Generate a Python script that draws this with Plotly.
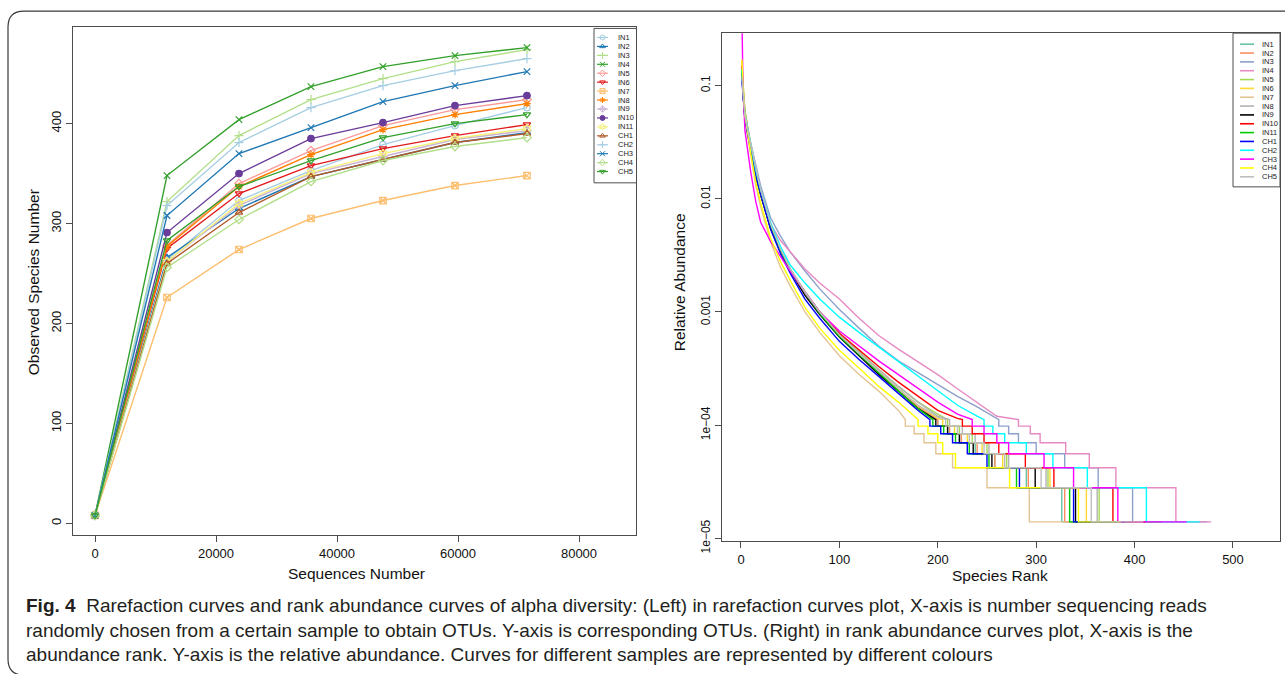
import plotly.graph_objects as go

W, H = 1285, 674
# vertical extent used for placing elements on the page
PAGE_H = 659

samples = ["IN1", "IN2", "IN3", "IN4", "IN5", "IN6", "IN7", "IN8", "IN9", "IN10", "IN11",
           "CH1", "CH2", "CH3", "CH4", "CH5"]

# ---------------- rarefaction curves (observed OTUs vs. sequences drawn) ----------------
seq_depth = [0, 11900, 23800, 35700, 47600, 59500, 71400]

obs_IN1 = [8, 264, 323, 353, 379, 398, 416]
obs_IN2 = [8, 266, 315, 347, 364, 381, 391]
obs_IN3 = [8, 322, 388, 424, 445, 462, 474]
obs_IN4 = [8, 348, 404, 437, 457, 468, 476]
obs_IN5 = [8, 278, 340, 373, 398, 414, 424]
obs_IN6 = [8, 275, 330, 358, 375, 388, 399]
obs_IN7 = [8, 226, 274, 305, 323, 338, 348]
obs_IN8 = [8, 277, 337, 369, 394, 409, 420]
obs_IN9 = [8, 262, 318, 350, 367, 384, 393]
obs_IN10 = [8, 291, 350, 385, 401, 418, 428]
obs_IN11 = [8, 262, 320, 351, 370, 385, 395]
obs_CH1 = [8, 260, 311, 347, 364, 381, 390]
obs_CH2 = [8, 318, 381, 416, 438, 453, 465]
obs_CH3 = [8, 308, 370, 396, 422, 438, 452]
obs_CH4 = [8, 256, 304, 342, 363, 377, 386]
obs_CH5 = [8, 283, 337, 363, 386, 400, 409]

observed = [obs_IN1, obs_IN2, obs_IN3, obs_IN4, obs_IN5, obs_IN6, obs_IN7, obs_IN8,
            obs_IN9, obs_IN10, obs_IN11, obs_CH1, obs_CH2, obs_CH3, obs_CH4, obs_CH5]

rare_colors = ["#A6CEE3", "#1F78B4", "#B2DF8A", "#33A02C", "#FB9A99", "#E31A1C",
               "#FDBF6F", "#FF7F00", "#CAB2D6", "#6A3D9A", "#F5F07A", "#B15928",
               "#A6CEE3", "#1F78B4", "#B2DF8A", "#33A02C"]
rare_symbols = ["circle-open", "triangle-up-open", "cross-thin-open", "x-thin-open",
                "diamond-open", "triangle-down-open", "square-x-open", "asterisk-open",
                "diamond-cross-open", "circle", "hexagram-open", "triangle-up-open",
                "cross-thin-open", "x-thin-open", "diamond-open", "triangle-down-open"]

# ---------------- rank abundance curves ----------------
rarefy_depth = 71400            # reads per sample after rarefaction
tail_counts = [7, 6, 5, 4, 3, 2, 1]   # read counts of the stepped low-abundance tail

head_rank = [1, 2, 4, 7, 10, 15, 20, 30, 40, 50, 65, 80, 100, 120, 140, 160, 180, 200, 220, 240, 260]

rel_IN1 = [0.14, 0.09, 0.055, 0.038, 0.028, 0.016, 0.011, 0.0056, 0.0034, 0.0023, 0.0015, 0.001,
           0.00062, 0.00042, 0.00029, 0.0002, 0.00014]
rel_IN2 = [0.16, 0.1, 0.06, 0.04, 0.029, 0.017, 0.0115, 0.0058, 0.0035, 0.0024, 0.0015, 0.001,
           0.00063, 0.00043, 0.0003, 0.0002, 0.000145]
rel_IN3 = [0.12, 0.085, 0.055, 0.04, 0.031, 0.019, 0.013, 0.0068, 0.0047, 0.0034, 0.0023, 0.0016,
           0.00105, 0.00072, 0.0005, 0.00037, 0.00029, 0.00023, 0.00018, 0.000145]
rel_IN4 = [0.13, 0.085, 0.055, 0.04, 0.03, 0.018, 0.012, 0.006, 0.0043, 0.0034, 0.0024, 0.0018,
           0.0013, 0.00088, 0.00062, 0.00047, 0.00036, 0.00028, 0.00021, 0.00016, 0.00012]
rel_IN5 = [0.15, 0.1, 0.06, 0.042, 0.03, 0.017, 0.011, 0.0057, 0.0035, 0.0024, 0.0015, 0.001,
           0.00065, 0.00045, 0.00031, 0.00022, 0.00016, 0.000125]
rel_IN6 = [0.17, 0.1, 0.058, 0.04, 0.029, 0.017, 0.0112, 0.0056, 0.0034, 0.0023, 0.0015, 0.00098,
           0.00062, 0.00043, 0.0003, 0.00021, 0.00015, 0.000115]
rel_IN7 = [0.15, 0.09, 0.05, 0.033, 0.024, 0.013, 0.0085, 0.0042, 0.0025, 0.0017, 0.001, 0.00066,
           0.00041, 0.00028, 0.0002, 0.000135]
rel_IN8 = [0.14, 0.09, 0.056, 0.04, 0.03, 0.018, 0.012, 0.006, 0.0036, 0.0024, 0.0015, 0.001,
           0.00064, 0.00044, 0.00031, 0.00022, 0.00016, 0.00012]
rel_IN9 = [0.13, 0.085, 0.052, 0.036, 0.027, 0.016, 0.0108, 0.0055, 0.0034, 0.0023, 0.0014, 0.00095,
           0.0006, 0.00041, 0.00028, 0.0002, 0.00014]
rel_IN10 = [0.15, 0.09, 0.055, 0.039, 0.028, 0.016, 0.011, 0.0055, 0.0034, 0.0023, 0.0015, 0.001,
            0.00065, 0.00046, 0.00033, 0.00024, 0.00018, 0.000135, 0.000115]
rel_IN11 = [0.14, 0.09, 0.055, 0.038, 0.028, 0.016, 0.011, 0.0056, 0.0034, 0.0023, 0.0015, 0.00097,
            0.00061, 0.00042, 0.00029, 0.0002, 0.00014]
rel_CH1 = [0.11, 0.08, 0.05, 0.036, 0.027, 0.016, 0.011, 0.0054, 0.0033, 0.0022, 0.0013, 0.00088,
           0.00055, 0.00038, 0.00027, 0.00019, 0.000135]
rel_CH2 = [0.14, 0.09, 0.056, 0.04, 0.03, 0.018, 0.012, 0.0062, 0.0038, 0.0026, 0.0018, 0.0013,
           0.0009, 0.00066, 0.00049, 0.00036, 0.00027, 0.0002, 0.00015, 0.00012]
rel_CH3 = [0.4, 0.1, 0.04, 0.025, 0.017, 0.0095, 0.0062, 0.0042, 0.0031, 0.0023, 0.0015, 0.001,
           0.00068, 0.0005, 0.00037, 0.00028, 0.00021, 0.00016, 0.000125]
rel_CH4 = [0.17, 0.1, 0.055, 0.036, 0.025, 0.014, 0.0092, 0.0045, 0.0028, 0.0019, 0.0011, 0.00072,
           0.00046, 0.00032, 0.00022, 0.00016]
rel_CH5 = [0.12, 0.085, 0.055, 0.04, 0.03, 0.018, 0.012, 0.006, 0.0036, 0.0024, 0.0015, 0.001,
           0.00063, 0.00043, 0.0003, 0.00021, 0.00015, 0.000118]

# rank at which each curve steps down to 7, 6, 5, 4, 3, 2 and 1 reads
steps_IN1 = [200, 210, 222, 238, 258, 290, 326]
steps_IN2 = [200, 212, 224, 240, 258, 292, 329]
steps_IN3 = [262, 272, 282, 300, 329, 363, 398]
steps_IN4 = [282, 294, 304, 330, 354, 381, 442]
steps_IN5 = [210, 222, 235, 250, 270, 312, 364]
steps_IN6 = [205, 217, 230, 245, 266, 314, 351]
steps_IN7 = [167, 176, 186, 198, 215, 250, 293]
steps_IN8 = [212, 225, 238, 252, 272, 310, 362]
steps_IN9 = [198, 210, 222, 236, 255, 299, 340]
steps_IN10 = [225, 235, 247, 262, 289, 318, 378]
steps_IN11 = [195, 206, 218, 232, 252, 280, 334]
steps_CH1 = [192, 203, 215, 230, 250, 283, 338]
steps_CH2 = [247, 256, 268, 290, 317, 352, 412]
steps_CH3 = [235, 247, 260, 272, 308, 338, 383]
steps_CH4 = [180, 190, 200, 205, 218, 273, 343]
steps_CH5 = [208, 220, 232, 247, 268, 305, 356]

species_total = [416, 391, 474, 478, 424, 399, 348, 420, 393, 428, 395, 390, 466, 453, 386, 409]

rel_heads = [rel_IN1, rel_IN2, rel_IN3, rel_IN4, rel_IN5, rel_IN6, rel_IN7, rel_IN8,
             rel_IN9, rel_IN10, rel_IN11, rel_CH1, rel_CH2, rel_CH3, rel_CH4, rel_CH5]
rel_steps = [steps_IN1, steps_IN2, steps_IN3, steps_IN4, steps_IN5, steps_IN6, steps_IN7, steps_IN8,
             steps_IN9, steps_IN10, steps_IN11, steps_CH1, steps_CH2, steps_CH3, steps_CH4, steps_CH5]

rank_colors = ["#66C2A5", "#FC8D62", "#8DA0CB", "#E78AC3", "#A6D854", "#FFD92F", "#E5C494",
               "#B3B3B3", "#000000", "#FF0000", "#00CD00", "#0000FF", "#00FFFF", "#FF00FF",
               "#FFFF00", "#BEBEBE"]

FONT = "Liberation Sans, Arial, Helvetica, sans-serif"
AXIS_COLOR = "#4d4d4d"


def px(x):
    return x / W


def py(y):
    return 1 - y / PAGE_H


def rank_curve(head, steps, total):
    xs = list(head_rank[:len(head)])
    ys = list(head)
    prev = tail_counts[0] + 1
    for r, k in zip(steps, tail_counts):
        xs += [r, r]
        ys += [prev / rarefy_depth, k / rarefy_depth]
        prev = k
    xs.append(total)
    ys.append(tail_counts[-1] / rarefy_depth)
    return xs, ys


fig = go.Figure()

# left panel: rarefaction curves
for name, vals, col, sym in zip(samples, observed, rare_colors, rare_symbols):
    fig.add_trace(go.Scatter(
        x=seq_depth, y=vals, mode="lines+markers", name=name,
        line=dict(color=col, width=1.4),
        marker=dict(symbol=sym, size=6.5, color=col, line=dict(color=col, width=1.2)),
        xaxis="x", yaxis="y", showlegend=False))

# right panel: rank abundance curves
for name, head, steps, total, col in zip(samples, rel_heads, rel_steps, species_total, rank_colors):
    xs, ys = rank_curve(head, steps, total)
    fig.add_trace(go.Scatter(
        x=xs, y=ys, mode="lines", name=name,
        line=dict(color=col, width=1.4),
        xaxis="x2", yaxis="y2", showlegend=False))

# legend glyphs, drawn in a full-page pixel frame
leg1_x0, leg1_y0, leg1_dy = 597, 37.3, 8.9
leg2_x0, leg2_y0, leg2_dy = 1240, 44, 8.8
for i, name in enumerate(samples):
    yy = leg1_y0 + i * leg1_dy
    fig.add_trace(go.Scatter(
        x=[leg1_x0, leg1_x0 + 11], y=[yy, yy], mode="lines",
        line=dict(color=rare_colors[i], width=1.2), xaxis="x3", yaxis="y3",
        showlegend=False, hoverinfo="skip"))
    fig.add_trace(go.Scatter(
        x=[leg1_x0 + 5.5], y=[yy], mode="markers",
        marker=dict(symbol=rare_symbols[i], size=5, color=rare_colors[i],
                    line=dict(color=rare_colors[i], width=1)),
        xaxis="x3", yaxis="y3", showlegend=False, hoverinfo="skip"))
    yy2 = leg2_y0 + i * leg2_dy
    fig.add_trace(go.Scatter(
        x=[leg2_x0, leg2_x0 + 14], y=[yy2, yy2], mode="lines",
        line=dict(color=rank_colors[i], width=1.6), xaxis="x3", yaxis="y3",
        showlegend=False, hoverinfo="skip"))

annotations = []
for i, name in enumerate(samples):
    annotations.append(dict(
        x=px(616), y=py(leg1_y0 + i * leg1_dy), xref="paper", yref="paper",
        text=name, showarrow=False, xanchor="left", yanchor="middle",
        font=dict(family=FONT, size=7.5, color="#222")))
    annotations.append(dict(
        x=px(1260), y=py(leg2_y0 + i * leg2_dy), xref="paper", yref="paper",
        text=name, showarrow=False, xanchor="left", yanchor="middle",
        font=dict(family=FONT, size=7.5, color="#222")))

# axis titles
title_font = dict(family=FONT, size=15.5, color="#111")
annotations += [
    dict(x=px(356), y=py(571), xref="paper", yref="paper", text="Sequences Number",
         showarrow=False, xanchor="center", yanchor="middle", font=title_font),
    dict(x=px(33), y=py(281), xref="paper", yref="paper", text="Observed Species Number",
         showarrow=False, textangle=-90, xanchor="center", yanchor="middle", font=title_font),
    dict(x=px(1000), y=py(573), xref="paper", yref="paper", text="Species Rank",
         showarrow=False, xanchor="center", yanchor="middle", font=title_font),
    dict(x=px(679), y=py(281), xref="paper", yref="paper", text="Relative Abundance",
         showarrow=False, textangle=-90, xanchor="center", yanchor="middle", font=title_font),
]

# caption
caption_lines = [
    "<b>Fig. 4</b>  Rarefaction curves and rank abundance curves of alpha diversity: (Left) in rarefaction "
    "curves plot, X-axis is number sequencing reads",
    "randomly chosen from a certain sample to obtain OTUs. Y-axis is corresponding OTUs. (Right) in rank "
    "abundance curves plot, X-axis is the",
    "abundance rank. Y-axis is the relative abundance. Curves for different samples are represented by "
    "different colours",
]
for j, line in enumerate(caption_lines):
    annotations.append(dict(
        x=px(24), y=py(603 + j * 24.5), xref="paper", yref="paper", text=line,
        showarrow=False, xanchor="left", yanchor="middle",
        font=dict(family=FONT, size=19, color="#231f20")))

shapes = [
    # outer rounded frame
    dict(type="path", xref="paper", yref="paper",
         path=f"M 1,{py(672)} L {px(24)},{py(672)} Q {px(8)},{py(672)} {px(8)},{py(656)} "
              f"L {px(8)},{py(27)} Q {px(8)},{py(11)} {px(24)},{py(11)} L 1,{py(11)}",
         line=dict(color="#3a3a3a", width=1.2)),
    # legend boxes
    dict(type="rect", xref="paper", yref="paper", x0=px(594), x1=px(636.5), y0=py(182), y1=py(28.3),
         line=dict(color=AXIS_COLOR, width=1), fillcolor="white", layer="below"),
    dict(type="rect", xref="paper", yref="paper", x0=px(1233), x1=px(1280), y0=py(186), y1=py(33),
         line=dict(color=AXIS_COLOR, width=1), fillcolor="white", layer="below"),
]

axis_common = dict(showgrid=False, zeroline=False, showline=True, mirror=True,
                   linecolor=AXIS_COLOR, linewidth=1, ticks="outside", ticklen=6,
                   tickcolor=AXIS_COLOR, tickfont=dict(family=FONT, size=13, color="#111"))

fig.update_layout(
    width=W, height=H, margin=dict(l=0, r=0, t=0, b=0),
    paper_bgcolor="white", plot_bgcolor="rgba(0,0,0,0)",
    xaxis=dict(domain=[px(73), px(636)], range=[-3636, 89421], anchor="y",
               tickvals=[0, 20000, 40000, 60000, 80000],
               ticktext=["0", "20000", "40000", "60000", "80000"], **axis_common),
    yaxis=dict(domain=[py(533), py(27)], range=[-12.06, 496.5], anchor="x",
               tickvals=[0, 100, 200, 300, 400], tickangle=-90, **axis_common),
    xaxis2=dict(domain=[px(722), px(1280)], range=[-19.3, 547.8], anchor="y2",
                tickvals=[0, 100, 200, 300, 400, 500], **axis_common),
    yaxis2=dict(domain=[py(539), py(33)], type="log", range=[-5.027, -0.537], anchor="x2",
                tickvals=[1e-5, 1e-4, 1e-3, 1e-2, 0.1],
                ticktext=["1e\u221205", "1e\u221204", "0.001", "0.01", "0.1"],
                tickangle=-90, **{**axis_common, "tickfont": dict(family=FONT, size=12, color="#111")}),
    xaxis3=dict(domain=[0, 1], range=[0, W], visible=False, fixedrange=True, anchor="y3"),
    yaxis3=dict(domain=[0, 1], range=[PAGE_H, 0], visible=False, fixedrange=True, anchor="x3"),
    annotations=annotations,
    shapes=shapes,
)

fig.write_html("out.html")
